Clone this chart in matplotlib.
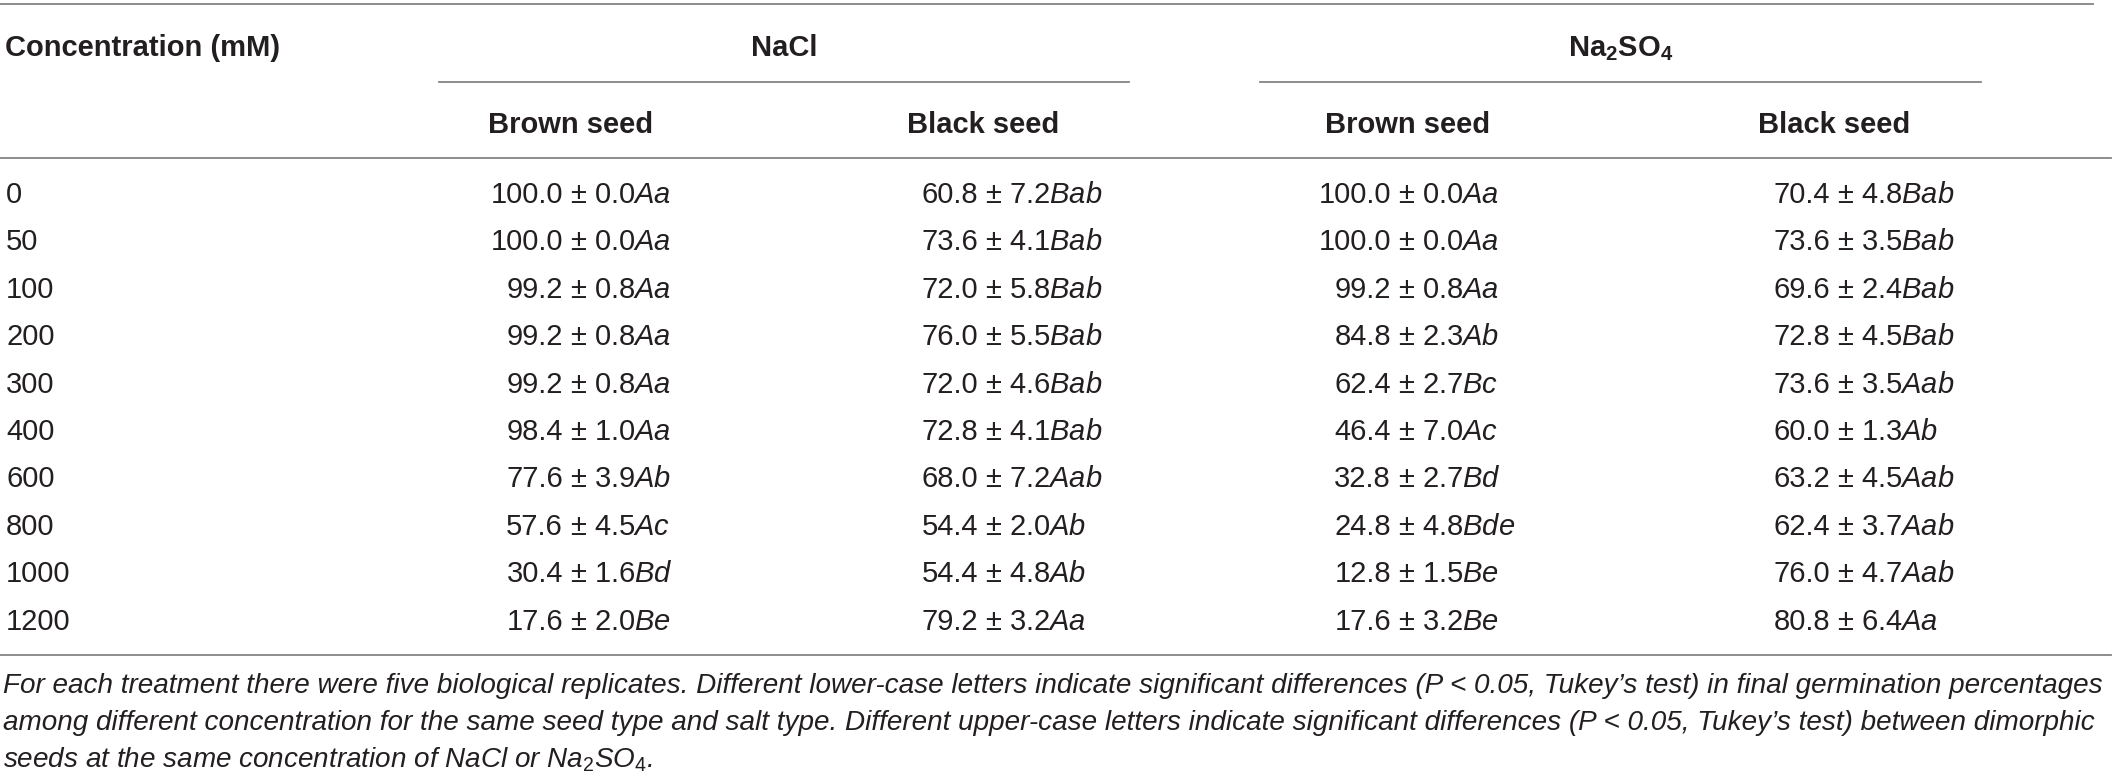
import matplotlib
matplotlib.use("Agg")
import matplotlib.pyplot as plt

plt.rcParams["font.family"] = ["Liberation Sans", "DejaVu Sans"]
plt.rcParams["mathtext.fontset"] = "custom"
plt.rcParams["mathtext.rm"] = "Liberation Sans"
plt.rcParams["mathtext.it"] = "Liberation Sans:italic"
plt.rcParams["mathtext.bf"] = "Liberation Sans:bold"

# table data: final germination percentage (mean ± SE) with letters
concentrations = [0, 50, 100, 200, 300, 400, 600, 800, 1000, 1200]

nacl_brown_mean = [100.0, 100.0, 99.2, 99.2, 99.2, 98.4, 77.6, 57.6, 30.4, 17.6]
nacl_brown_sd = [0.0, 0.0, 0.8, 0.8, 0.8, 1.0, 3.9, 4.5, 1.6, 2.0]
nacl_brown_letters = ["Aa", "Aa", "Aa", "Aa", "Aa", "Aa", "Ab", "Ac", "Bd", "Be"]

nacl_black_mean = [60.8, 73.6, 72.0, 76.0, 72.0, 72.8, 68.0, 54.4, 54.4, 79.2]
nacl_black_sd = [7.2, 4.1, 5.8, 5.5, 4.6, 4.1, 7.2, 2.0, 4.8, 3.2]
nacl_black_letters = ["Bab", "Bab", "Bab", "Bab", "Bab", "Bab", "Aab", "Ab", "Ab", "Aa"]

na2so4_brown_mean = [100.0, 100.0, 99.2, 84.8, 62.4, 46.4, 32.8, 24.8, 12.8, 17.6]
na2so4_brown_sd = [0.0, 0.0, 0.8, 2.3, 2.7, 7.0, 2.7, 4.8, 1.5, 3.2]
na2so4_brown_letters = ["Aa", "Aa", "Aa", "Ab", "Bc", "Ac", "Bd", "Bde", "Be", "Be"]

na2so4_black_mean = [70.4, 73.6, 69.6, 72.8, 73.6, 60.0, 63.2, 62.4, 76.0, 80.8]
na2so4_black_sd = [4.8, 3.5, 2.4, 4.5, 3.5, 1.3, 4.5, 3.7, 4.7, 6.4]
na2so4_black_letters = ["Bab", "Bab", "Bab", "Bab", "Aab", "Ab", "Aab", "Aab", "Aab", "Aa"]

salt_labels = ["NaCl", r"Na$_\mathbf{2}$SO$_\mathbf{4}$"]
seed_labels = ["Brown seed", "Black seed", "Brown seed", "Black seed"]

caption_lines = [
    "For each treatment there were five biological replicates. Different lower-case letters indicate "
    "significant differences (P < 0.05, Tukey\u2019s test) in final germination percentages",
    "among different concentration for the same seed type and salt type. Different upper-case letters "
    "indicate significant differences (P < 0.05, Tukey\u2019s test) between dimorphic",
    r"seeds at the same concentration of NaCl or Na$_\mathit{2}$SO$_\mathit{4}$.",
]

columns = [
    (nacl_brown_mean, nacl_brown_sd, nacl_brown_letters),
    (nacl_black_mean, nacl_black_sd, nacl_black_letters),
    (na2so4_brown_mean, na2so4_brown_sd, na2so4_brown_letters),
    (na2so4_black_mean, na2so4_black_sd, na2so4_black_letters),
]

W, H = 2118, 778
fig = plt.figure(figsize=(W / 100, H / 100), dpi=100)
ax = fig.add_axes([0, 0, 1, 1])
ax.set_xlim(0, W)
ax.set_ylim(H, 0)
ax.axis("off")

txt_color = "#231f20"
line_color = "#848484"
fs = 21
lw = 1.3

# horizontal rules
ax.plot([0, 2093], [4, 4], color=line_color, lw=lw)
ax.plot([439, 1129], [82, 82], color=line_color, lw=lw)
ax.plot([1260, 1981], [82, 82], color=line_color, lw=lw)
ax.plot([0, 2111], [158, 158], color=line_color, lw=lw)
ax.plot([0, 2111], [655, 655], color=line_color, lw=lw)

# headers
ax.text(5, 56, "Concentration (mM)", fontsize=fs, fontweight="bold",
        color=txt_color, ha="left", va="baseline")
for x, lab in zip([784, 1621], salt_labels):
    ax.text(x, 56, lab, fontsize=fs, fontweight="bold", color=txt_color,
            ha="center", va="baseline")

head_x = [571, 983, 1408, 1834]
pm_x = [578, 993, 1406, 1845]
for x, lab in zip(head_x, seed_labels):
    ax.text(x, 133, lab, fontsize=fs, fontweight="bold", color=txt_color,
            ha="center", va="baseline")

# body rows
row_y0 = 203
row_dy = 47.4
for i, c in enumerate(concentrations):
    y = row_y0 + i * row_dy
    ax.text(6, y, str(c), fontsize=fs, color=txt_color, ha="left", va="baseline")
    for x, (means, sds, letters) in zip(pm_x, columns):
        ax.text(x - 15, y, f"{means[i]:.1f}", fontsize=fs, color=txt_color,
                ha="right", va="baseline")
        ax.text(x - 8, y, "\u00b1 " + f"{sds[i]:.1f}" + r"$\mathit{" + letters[i] + "}$",
                fontsize=fs, color=txt_color, ha="left", va="baseline")

# caption, fitted to table width
cap_y = [693, 730, 767]
cap_fs = 17
caps = []
for y, line in zip(cap_y, caption_lines):
    caps.append(ax.text(3, y, line, fontsize=cap_fs, style="italic",
                        color=txt_color, ha="left", va="baseline"))
fig.canvas.draw()
w0 = caps[0].get_window_extent().width
scale = 2107 / w0
for t in caps:
    t.set_fontsize(cap_fs * scale)

fig.savefig("out.png", dpi=100)
